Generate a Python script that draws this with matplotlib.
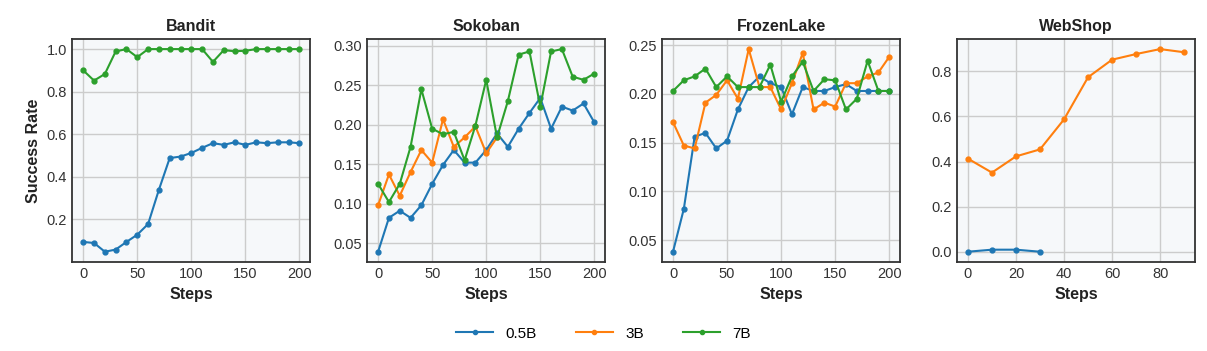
import matplotlib
matplotlib.use("Agg")
import matplotlib.pyplot as plt

steps200 = list(range(0, 201, 10))

bandit_05b = [0.094, 0.089, 0.048, 0.058, 0.094, 0.128, 0.178, 0.339, 0.488, 0.495, 0.512,
              0.536, 0.558, 0.550, 0.562, 0.550, 0.562, 0.558, 0.562, 0.562, 0.558]
bandit_7b = [0.900, 0.852, 0.883, 0.989, 1.000, 0.962, 1.000, 1.000, 1.000, 1.000, 1.000,
             1.000, 0.940, 0.995, 0.990, 0.992, 1.000, 1.000, 1.000, 1.000, 1.000]

sokoban_05b = [0.039, 0.082, 0.091, 0.082, 0.098, 0.125, 0.149, 0.168, 0.152, 0.152, 0.168,
               0.189, 0.172, 0.195, 0.215, 0.234, 0.195, 0.223, 0.218, 0.227, 0.203]
sokoban_3b = [0.098, 0.137, 0.110, 0.140, 0.168, 0.152, 0.207, 0.172, 0.184, 0.198, 0.164, 0.184]
sokoban_7b = [0.125, 0.102, 0.125, 0.172, 0.245, 0.195, 0.188, 0.191, 0.155, 0.199, 0.257,
              0.184, 0.230, 0.289, 0.293, 0.223, 0.293, 0.296, 0.261, 0.257, 0.265]

frozen_05b = [0.038, 0.082, 0.156, 0.160, 0.144, 0.152, 0.184, 0.207, 0.218, 0.211, 0.207,
              0.179, 0.207, 0.203, 0.203, 0.207, 0.210, 0.203, 0.203, 0.203, 0.203]
frozen_3b = [0.171, 0.147, 0.144, 0.191, 0.199, 0.214, 0.195, 0.246, 0.207, 0.207, 0.184,
             0.211, 0.242, 0.184, 0.191, 0.187, 0.211, 0.211, 0.218, 0.222, 0.238]
frozen_7b = [0.203, 0.214, 0.218, 0.226, 0.207, 0.218, 0.207, 0.207, 0.207, 0.230, 0.192,
             0.218, 0.233, 0.203, 0.215, 0.214, 0.184, 0.195, 0.234, 0.203, 0.203]

webshop_steps_05b = [0, 10, 20, 30]
webshop_05b = [0.0, 0.009, 0.009, 0.0]
webshop_steps_3b = list(range(0, 91, 10))
webshop_3b = [0.413, 0.351, 0.423, 0.454, 0.587, 0.774, 0.852, 0.877, 0.899, 0.885]

labels = ["0.5B", "3B", "7B"]
colors = ["#1f77b4", "#ff7f0e", "#2ca02c"]

panels = [
    ("Bandit", [(steps200, bandit_05b, 0), (steps200, bandit_7b, 2)]),
    ("Sokoban", [(steps200, sokoban_05b, 0), (steps200[:len(sokoban_3b)], sokoban_3b, 1),
                 (steps200, sokoban_7b, 2)]),
    ("FrozenLake", [(steps200, frozen_05b, 0), (steps200, frozen_3b, 1), (steps200, frozen_7b, 2)]),
    ("WebShop", [(webshop_steps_05b, webshop_05b, 0), (webshop_steps_3b, webshop_3b, 1)]),
]

plt.rcParams["font.family"] = ["Liberation Sans", "DejaVu Sans"]

fig, axes = plt.subplots(1, 4, figsize=(12.07, 3.51), dpi=100)
fig.subplots_adjust(left=0.06, right=0.99, bottom=0.254, top=0.889, wspace=0.24)

for ax, (name, series) in zip(axes, panels):
    ax.set_facecolor("#f6f8fa")
    for x, y, i in series:
        ax.plot(x, y, color=colors[i], marker="o", markersize=3.5, linewidth=1.5)
    ax.set_title(name, fontsize=11.5, fontweight="bold", color="#222222")
    ax.set_xlabel("Steps", fontsize=11.5, fontweight="bold", color="#222222", labelpad=4)
    ax.grid(True, color="#cccccc", linewidth=1)
    ax.set_axisbelow(True)
    ax.tick_params(labelsize=10.5, colors="#333333", length=0, pad=4)
    for s in ax.spines.values():
        s.set_color("#333333")
        s.set_linewidth(1.3)

axes[0].set_ylabel("Success Rate", fontsize=11.5, fontweight="bold", color="#222222")
axes[0].set_yticks([0.2, 0.4, 0.6, 0.8, 1.0])
axes[3].set_yticks([0.0, 0.2, 0.4, 0.6, 0.8])

handles = [plt.Line2D([], [], color=c, marker="o", markersize=3, linewidth=1.5) for c in colors]
fig.legend(handles, labels, loc="lower center", ncol=3, frameon=False, fontsize=11,
           bbox_to_anchor=(0.5, -0.01), handlelength=2.4, columnspacing=2.6)

fig.savefig("out.png", dpi=100)
